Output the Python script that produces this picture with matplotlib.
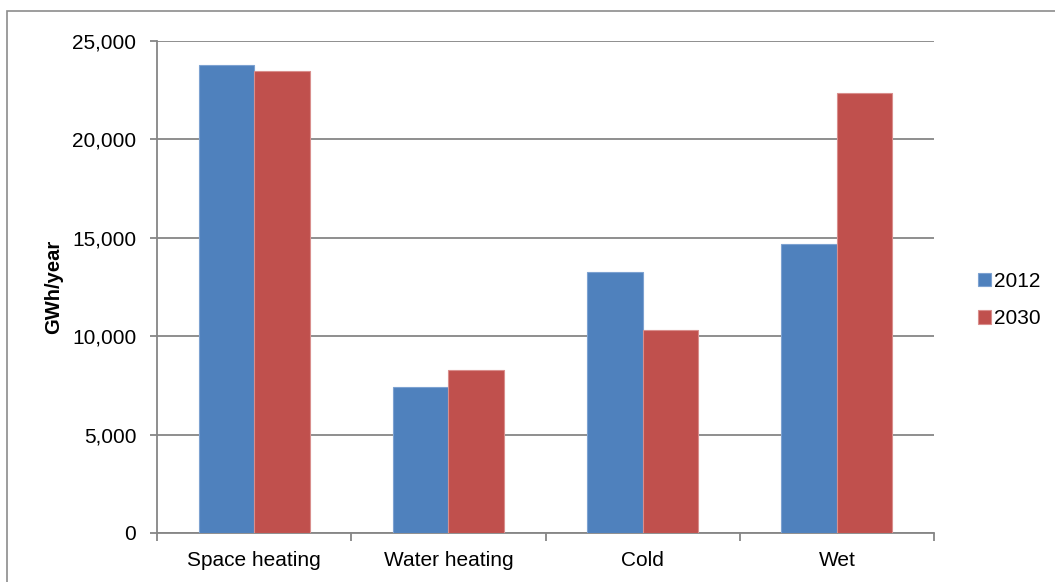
import matplotlib
matplotlib.use("Agg")
import matplotlib.pyplot as plt
from matplotlib.patches import Rectangle
from matplotlib.ticker import FuncFormatter, MultipleLocator
import numpy as np

categories = ["Space heating", "Water heating", "Cold", "Wet"]
series_names = ["2012", "2030"]
values_2012 = [23780, 7400, 13260, 14680]
values_2030 = [23480, 8280, 10320, 22340]

plt.rcParams["font.family"] = ["Liberation Sans", "DejaVu Sans"]

BLUE = "#4F81BD"
RED = "#C0504D"
GRID = "#868686"

fig = plt.figure(figsize=(10.55, 5.82), dpi=100)
ax = fig.add_axes([157 / 1055, 1 - 533 / 582, (934 - 157) / 1055, (533 - 41) / 582])

x = np.arange(len(categories))
w = 1 / 3.5
ax.bar(x - w / 2, values_2012, width=w, color=BLUE, edgecolor="#7DA2D1",
       linewidth=0.8, label=series_names[0], zorder=3)
ax.bar(x + w / 2, values_2030, width=w, color=RED, edgecolor="#D98E8C",
       linewidth=0.8, label=series_names[1], zorder=3)

ax.set_xlim(-0.5, len(categories) - 0.5)
ax.set_ylim(0, 25000)
ax.yaxis.set_major_locator(MultipleLocator(5000))
ax.yaxis.set_major_formatter(FuncFormatter(lambda v, p: f"{int(v):,}"))
ax.grid(axis="y", color=GRID, linewidth=1.3, zorder=0)

ax.set_xticks(x)
ax.set_xticklabels(categories)
ax.set_xticks(np.arange(-0.5, len(categories)), minor=True)
ax.tick_params(axis="x", which="major", length=0, pad=13, labelsize=15)
ax.tick_params(axis="x", which="minor", length=6, width=1.3, color=GRID, direction="out")
ax.tick_params(axis="y", length=5, width=1.3, color=GRID, direction="out", pad=10, labelsize=15)

for side in ("top", "right"):
    ax.spines[side].set_visible(False)
for side in ("left", "bottom"):
    ax.spines[side].set_color(GRID)
    ax.spines[side].set_linewidth(1.3)

ax.set_ylabel("GWh/year", fontsize=14.5, fontweight="bold", labelpad=6)

fig.legend(loc="center left", bbox_to_anchor=(970 / 1055, 1 - 300 / 582),
           frameon=False, fontsize=15, handlelength=0.6, handleheight=0.6,
           handletextpad=0.15, labelspacing=0.9, borderaxespad=0)

frame = Rectangle((7 / 1055, -0.1), 2, 1.1 - 11 / 582, transform=fig.transFigure,
                  fill=False, edgecolor="#8C8C8C", linewidth=1.2)
fig.patches.append(frame)

fig.savefig("out.png", dpi=100)
